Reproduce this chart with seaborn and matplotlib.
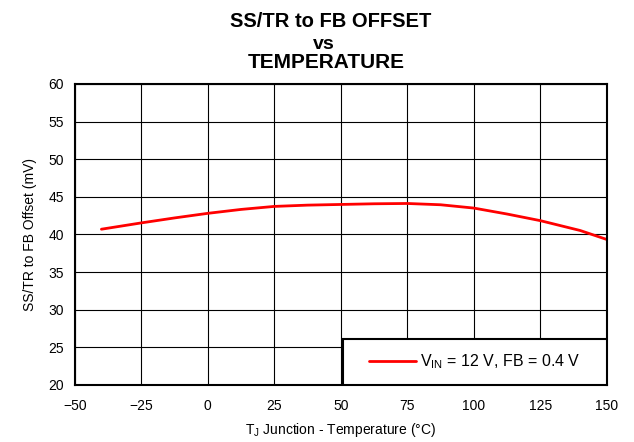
import numpy as np
import pandas as pd
import matplotlib
matplotlib.use('Agg')
import matplotlib.pyplot as plt
from matplotlib.patches import Rectangle
import seaborn as sns

temp = [-40, -25, -12.5, 0, 12.5, 25, 37.5, 50, 62.5, 75, 87.5, 100, 112.5, 125, 140, 150]
offset = [40.7, 41.54, 42.2, 42.81, 43.33, 43.73, 43.9, 43.99, 44.08, 44.12, 43.95,
          43.51, 42.72, 41.84, 40.53, 39.34]
series = 'V$_{\\mathregular{IN}}$ = 12 V, FB = 0.4 V'
x_ticks = [-50, -25, 0, 25, 50, 75, 100, 125, 150]
x_labels = ['\u221250', '\u221225', '0', '25', '50', '75', '100', '125', '150']
y_ticks = [20, 25, 30, 35, 40, 45, 50, 55, 60]

sns.set_style('white')
plt.rcParams['font.family'] = ['Liberation Sans', 'DejaVu Sans']
plt.rcParams['mathtext.fontset'] = 'custom'
plt.rcParams['mathtext.rm'] = 'Liberation Sans'
for k in ['text.color', 'axes.labelcolor', 'xtick.color', 'ytick.color']:
    plt.rcParams[k] = 'black'

df = pd.DataFrame({'T': temp, 'Offset': offset, 'series': series})

fig = plt.figure(figsize=(6.34, 4.42), dpi=100)
ax = fig.add_axes([0.118, 0.129, 0.839, 0.681])
sns.lineplot(data=df, x='T', y='Offset', hue='series', palette=['#ff0000'],
             linewidth=2, ax=ax)

ax.set_xlim(-50, 150)
ax.set_ylim(20, 60)
ax.set_xticks(x_ticks)
ax.set_xticklabels(x_labels)
ax.set_yticks(y_ticks)
ax.tick_params(length=0, labelsize=10, colors='black')
ax.tick_params(axis='x', pad=10)
ax.tick_params(axis='y', pad=8)
ax.grid(True, color='black', linewidth=0.8)
for s in ax.spines.values():
    s.set_color('black')
    s.set_linewidth(1.5)
ax.set_xlabel('T$_{\\mathregular{J}}$ Junction - Temperature (°C)', fontsize=10, labelpad=6)
ax.set_ylabel('SS/TR to FB Offset (mV)', fontsize=10, labelpad=8)

# legend box in the lower right corner
box = Rectangle((0.504, 0.0), 0.496, 0.153, transform=ax.transAxes,
                facecolor='white', edgecolor='black', linewidth=1.5, zorder=3)
ax.add_patch(box)
leg = ax.legend(loc='center', bbox_to_anchor=(0.752, 0.0765), frameon=False,
                fontsize=11.5, handlelength=2.9, handletextpad=0.25,
                borderpad=0, title=None)
leg.set_zorder(5)

fig.text(0.522, 0.939, 'SS/TR to FB OFFSET', ha='center', va='baseline',
         fontsize=14.5, fontweight='bold')
fig.text(0.51, 0.889, 'vs', ha='center', va='baseline',
         fontsize=14, fontweight='bold')
fig.text(0.515, 0.846, 'TEMPERATURE', ha='center', va='baseline',
         fontsize=15, fontweight='bold')

fig.savefig('out.png', dpi=100)
